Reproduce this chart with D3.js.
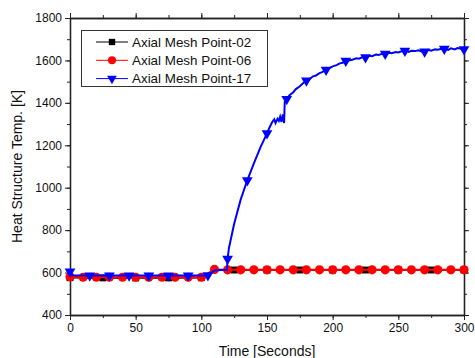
<!DOCTYPE html>
<html><head><meta charset="utf-8">
<script src="https://cdn.jsdelivr.net/npm/d3@7"></script>
<style>body{margin:0;background:#fff}svg{display:block;font-family:"Liberation Sans",Arial,sans-serif}</style>
</head><body><svg id="c" width="475" height="358"></svg>
<script>
const xTicks = [0,50,100,150,200,250,300];
const yTicks = [400,600,800,1000,1200,1400,1600,1800];
const seriesNames = ["Axial Mesh Point-02","Axial Mesh Point-06","Axial Mesh Point-17"];

const t02 = [0,25,50,75,100,104,108,112,125,150,175,200,225,250,275,300];
const v02 = [576,575,575,575,576,584,600,611,612,612,612,612,612,612,612,612];

const t06 = [0,10,20,30,40,50,60,70,80,90,100,103,106,110,120,130,140,150,160,170,180,190,200,210,220,230,240,250,260,270,280,290,300];
const v06 = [580,578,578,578,578,578,578,578,578,578,578,584,600,615,613,613,613,613,613,613,613,613,613,613,613,613,613,613,613,613,613,613,613];

const t17 = [0,1.5,15,30,45,60,75,90,100,105,107,110,115,119.5,120,121,125,130,135,140,145,150,152,154,155.5,156.5,158,159,160,161,162,163,163.5,165,167,170,172,175,177,180,182,185,187,190,192,195,198,200,203,205,208,210,213,215,218,220,223,225,228,230,233,235,238,240,243,245,248,250,253,255,258,260,263,265,268,270,273,275,278,280,283,285,288,290,293,295,298,300];
const v17 = [605,587,586,586,586,586,586,586,586,587,595,610,612,613,665,715,830,945,1035,1115,1190,1256,1285,1310,1322,1305,1325,1315,1335,1310,1345,1305,1405,1418,1435,1450,1465,1478,1490,1505,1510,1525,1528,1540,1545,1556,1565,1572,1578,1585,1590,1598,1601,1603,1610,1608,1616,1615,1622,1620,1628,1626,1632,1631,1636,1634,1640,1638,1644,1645,1640,1646,1644,1648,1642,1642,1650,1646,1652,1650,1655,1655,1650,1657,1652,1658,1655,1652];

const svg = d3.select("#c");
const x = d3.scaleLinear().domain([0,300]).range([70,464]);
const y = d3.scaleLinear().domain([400,1800]).range([315,18]);

const axCol = "#222";
const xMinor = d3.range(0,301,25), yMinor = d3.range(400,1801,100);
function styleAxis(g){ g.select(".domain").attr("stroke",axCol).attr("stroke-width",1.3); g.selectAll(".tick line").attr("stroke",axCol).attr("stroke-width",1); }

svg.append("g").attr("transform","translate(0,315)").call(d3.axisBottom(x).tickValues(xMinor).tickSize(3).tickFormat("").tickSizeOuter(0)).call(styleAxis);
svg.append("g").attr("transform","translate(0,18)").call(d3.axisTop(x).tickValues(xMinor).tickSize(3).tickFormat("").tickSizeOuter(0)).call(styleAxis);
svg.append("g").attr("transform","translate(70,0)").call(d3.axisLeft(y).tickValues(yMinor).tickSize(3).tickFormat("").tickSizeOuter(0)).call(styleAxis);
svg.append("g").attr("transform","translate(464,0)").call(d3.axisRight(y).tickValues(yMinor).tickSize(3).tickFormat("").tickSizeOuter(0)).call(styleAxis);

const fmt = d3.format("d");
const gx = svg.append("g").attr("transform","translate(0,315)").call(d3.axisBottom(x).tickValues(xTicks).tickFormat(fmt).tickSize(5).tickPadding(3).tickSizeOuter(0)).call(styleAxis);
gx.selectAll("text").attr("font-size",12).attr("fill","#111").attr("font-family","Liberation Sans, Arial, sans-serif");
const gy = svg.append("g").attr("transform","translate(70,0)").call(d3.axisLeft(y).tickValues(yTicks).tickFormat(fmt).tickSize(5).tickPadding(3).tickSizeOuter(0)).call(styleAxis);
gy.selectAll("text").attr("font-size",12).attr("fill","#111").attr("font-family","Liberation Sans, Arial, sans-serif");
svg.append("g").attr("transform","translate(0,18)").call(d3.axisTop(x).tickValues(xTicks).tickSize(5).tickFormat("").tickSizeOuter(0)).call(styleAxis);
svg.append("g").attr("transform","translate(464,0)").call(d3.axisRight(y).tickValues(yTicks).tickSize(5).tickFormat("").tickSizeOuter(0)).call(styleAxis);

svg.append("text").attr("x",267).attr("y",356).attr("text-anchor","middle").attr("font-size",14).attr("fill","#111").text("Time [Seconds]");
svg.append("text").attr("transform","translate(22,166.5) rotate(-90)").attr("text-anchor","middle").attr("font-size",14).attr("fill","#111").text("Heat Structure Temp. [K]");

const line = d3.line().x(d=>x(d[0])).y(d=>y(d[1]));
const d02 = t02.map((t,i)=>[t,v02[i]]);
const d06 = t06.map((t,i)=>[t,v06[i]]);
const d17 = t17.map((t,i)=>[t,v17[i]]);

const sq = d3.symbol().type(d3.symbolSquare).size(48);
const ci = d3.symbol().type(d3.symbolCircle).size(66);
const tri = d3.symbol().type(d3.symbolTriangle).size(50);

svg.append("path").attr("d",line(d02)).attr("fill","none").attr("stroke","#000").attr("stroke-width",1.6);
svg.selectAll(".m02").data(d02.filter(d=>d[0]%25===0)).enter().append("path").attr("d",sq).attr("transform",d=>`translate(${x(d[0])},${y(d[1])})`).attr("fill","#000");
svg.append("path").attr("d",line(d06)).attr("fill","none").attr("stroke","#ff0000").attr("stroke-width",2);
svg.selectAll(".m06").data(d06.filter(d=>d[0]%10===0)).enter().append("path").attr("d",ci).attr("transform",d=>`translate(${x(d[0])},${y(d[1])})`).attr("fill","#ff0000");
svg.append("path").attr("d",line(d17)).attr("fill","none").attr("stroke","#0000ff").attr("stroke-width",2);
svg.selectAll(".m17").data(d17.filter(d=>d[0]%15===0)).enter().append("path").attr("d",tri).attr("transform",d=>`translate(${x(d[0])},${y(d[1])}) rotate(180)`).attr("fill","#0000ff");

const lg = svg.append("g");
lg.append("rect").attr("x",81.5).attr("y",30.5).attr("width",186).attr("height",56).attr("fill","#fff").attr("stroke","#333").attr("stroke-width",1);
const cols = ["#000","#ff0000","#0000ff"];
const syms = [d3.symbol().type(d3.symbolSquare).size(40), d3.symbol().type(d3.symbolCircle).size(50), d3.symbol().type(d3.symbolTriangle).size(40)];
seriesNames.forEach((n,i)=>{
  const yy = 42 + i*18.3;
  lg.append("line").attr("x1",96).attr("x2",128).attr("y1",yy).attr("y2",yy).attr("stroke",cols[i]).attr("stroke-width",1);
  lg.append("path").attr("d",syms[i]).attr("transform",`translate(112,${yy})${i===2?" rotate(180)":""}`).attr("fill",cols[i]);
  lg.append("text").attr("x",132).attr("y",yy+4.6).attr("font-size",13.4).attr("fill","#111").text(n);
});
</script></body></html>
